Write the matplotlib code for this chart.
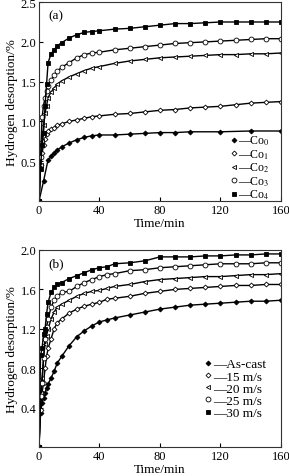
import numpy as np
import matplotlib
matplotlib.use("Agg")
import matplotlib.pyplot as plt
from matplotlib.lines import Line2D

plt.rcParams["font.family"] = ["Liberation Serif", "DejaVu Serif"]
plt.rcParams["mathtext.fontset"] = "stix"

# ── Panel (a): Co content ────────────────────────────────────────────────────
T_A = [0, 1, 2, 3, 4, 5, 6, 8, 10, 12, 15, 20, 25, 30, 35, 40,
       50, 60, 70, 80, 90, 100, 110, 120, 130, 140, 150, 160]
T_CO0 = [0, 3, 6, 8, 10, 12, 15, 20, 25, 30, 35, 40,
         50, 60, 70, 80, 90, 100, 120, 140, 160]
CO0 = [0, 0.25, 0.52, 0.56, 0.60, 0.64, 0.68, 0.73, 0.77, 0.80, 0.82, 0.83,
       0.83, 0.84, 0.85, 0.86, 0.86, 0.87, 0.87, 0.88, 0.88]
CO1 = [0, 0.45, 0.60, 0.70, 0.78, 0.84, 0.88, 0.90, 0.92, 0.95, 0.97, 1.00,
       1.02, 1.04, 1.06, 1.07, 1.09, 1.10, 1.12, 1.14, 1.15, 1.17, 1.18,
       1.19, 1.21, 1.23, 1.24, 1.25]
CO2 = [0, 0.45, 0.75, 0.95, 1.10, 1.20, 1.30, 1.37, 1.42, 1.47, 1.51, 1.56,
       1.60, 1.64, 1.67, 1.69, 1.73, 1.76, 1.78, 1.80, 1.81, 1.82, 1.83,
       1.84, 1.84, 1.85, 1.85, 1.86]
CO3 = [0, 0.55, 1.05, 1.20, 1.30, 1.38, 1.45, 1.52, 1.58, 1.63, 1.68, 1.74,
       1.80, 1.84, 1.86, 1.87, 1.90, 1.92, 1.94, 1.96, 1.98, 1.99, 2.00,
       2.01, 2.02, 2.03, 2.04, 2.04]
CO4 = [0, 0.40, 0.70, 0.85, 1.20, 1.47, 1.74, 1.85, 1.90, 1.95, 1.99, 2.05,
       2.09, 2.12, 2.13, 2.14, 2.16, 2.17, 2.19, 2.21, 2.23, 2.23, 2.24,
       2.25, 2.25, 2.25, 2.25, 2.25]
LABELS_A = ["—Co$_0$", "—Co$_1$", "—Co$_2$", "—Co$_3$", "—Co$_4$"]

# ── Panel (b): wheel speed ───────────────────────────────────────────────────
T_B = [0, 1, 2, 3, 4, 5, 6, 8, 10, 12, 15, 20, 25, 30, 35, 40, 45,
       50, 60, 70, 80, 90, 100, 110, 120, 130, 140, 150, 160]
AS_CAST = [0, 0.35, 0.45, 0.50, 0.55, 0.60, 0.64, 0.70, 0.77, 0.85, 0.92,
           1.03, 1.12, 1.18, 1.23, 1.27, 1.29, 1.31, 1.34, 1.37, 1.40, 1.42,
           1.44, 1.45, 1.46, 1.47, 1.48, 1.48, 1.49]
S15 = [0, 0.38, 0.55, 0.65, 0.80, 0.92, 1.00, 1.10, 1.20, 1.26, 1.30, 1.36,
       1.40, 1.43, 1.45, 1.47, 1.50, 1.51, 1.53, 1.56, 1.58, 1.60, 1.61,
       1.62, 1.63, 1.64, 1.64, 1.65, 1.65]
S20 = [0, 0.55, 0.70, 0.90, 1.05, 1.13, 1.20, 1.30, 1.37, 1.42, 1.45, 1.49,
       1.53, 1.56, 1.58, 1.59, 1.61, 1.63, 1.65, 1.68, 1.70, 1.71, 1.72,
       1.73, 1.73, 1.74, 1.75, 1.75, 1.76]
S25 = [0, 0.52, 0.65, 0.90, 1.10, 1.22, 1.30, 1.42, 1.49, 1.53, 1.57, 1.58,
       1.63, 1.67, 1.70, 1.73, 1.75, 1.76, 1.79, 1.80, 1.82, 1.83, 1.84,
       1.85, 1.86, 1.86, 1.86, 1.87, 1.87]
S30 = [0, 0.93, 1.00, 1.15, 1.20, 1.35, 1.47, 1.57, 1.62, 1.65, 1.67, 1.71,
       1.74, 1.77, 1.80, 1.82, 1.83, 1.86, 1.87, 1.89, 1.93, 1.93, 1.93,
       1.94, 1.94, 1.95, 1.95, 1.96, 1.96]
LABELS_B = ["—As-cast", "—15 m/s", "—20 m/s", "—25 m/s", "—30 m/s"]

STYLES = [
    dict(marker="D", ms=2.5, mfc="black"),
    dict(marker="D", ms=2.5, mfc="white"),
    dict(marker="<", ms=3.0, mfc="white"),
    dict(marker="o", ms=3.5, mfc="white"),
    dict(marker="s", ms=3.5, mfc="black"),
]

fig = plt.figure(figsize=(2.89, 4.77), dpi=100)
ax_a = fig.add_axes([0.135, 0.5765, 0.837, 0.417])
ax_b = fig.add_axes([0.135, 0.0608, 0.837, 0.413])


def draw(ax, series):
    handles = []
    for (t, y), st in zip(series, STYLES):
        ax.plot(t, y, color="black", lw=1.0, mec="black", mew=0.6, **st)
        handles.append(Line2D([], [], ls="none", color="black", mec="black",
                              mew=0.6, **st))
    return handles


h_a = draw(ax_a, [(T_CO0, CO0), (T_A, CO1), (T_A, CO2), (T_A, CO3), (T_A, CO4)])
h_b = draw(ax_b, [(T_B, AS_CAST), (T_B, S15), (T_B, S20), (T_B, S25), (T_B, S30)])

for ax, ymax, yt, tag, h, labels, loc, fs in [
        (ax_a, 2.5, [0.5, 1.0, 1.5, 2.0, 2.5], "(a)", h_a, LABELS_A, (0.78, 0.35), 8.5),
        (ax_b, 2.0, [0.4, 0.8, 1.2, 1.6, 2.0], "(b)", h_b, LABELS_B, (0.67, 0.465), 9.5)]:
    ax.set_xlim(0, 160)
    ax.set_ylim(0, ymax)
    ax.set_xticks([0, 40, 80, 120, 160])
    ax.set_yticks(yt)
    ax.set_yticklabels([f"{v:.1f}" for v in yt])
    ax.tick_params(direction="in", length=3, labelsize=9, pad=2)
    ax.set_xlabel("Time/min", fontsize=9.5, labelpad=1)
    ax.set_ylabel("Hydrogen desorption/%", fontsize=9.5, labelpad=2)
    ax.text(0.04, 0.965, tag, transform=ax.transAxes, fontsize=9.5,
            va="top", ha="left")
    for s in ax.spines.values():
        s.set_linewidth(0.8)
        s.set_color("#333333")
    ax.legend(h, labels, loc="upper left", bbox_to_anchor=loc, frameon=False,
              fontsize=fs, handlelength=0.6, handletextpad=0.1,
              labelspacing=0.0, borderpad=0.2, borderaxespad=0)

fig.savefig("out.png", dpi=100)
